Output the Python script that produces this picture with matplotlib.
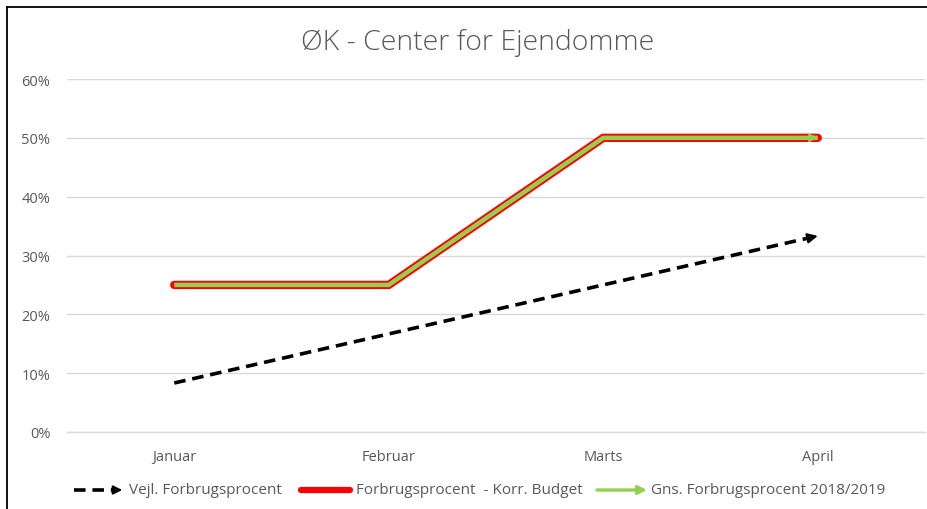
import matplotlib
matplotlib.use("Agg")
import matplotlib.pyplot as plt
from matplotlib.lines import Line2D
from matplotlib.patches import FancyArrowPatch

# ---- data ----
categories = ["Januar", "Februar", "Marts", "April"]
vejl = [8.33, 16.67, 25.0, 33.33]          # Vejl. Forbrugsprocent
korr = [25.0, 25.0, 50.0, 50.0]            # Forbrugsprocent - Korr. Budget
gns = [25.0, 25.0, 50.0, 50.0]             # Gns. Forbrugsprocent 2018/2019
yticks = [0, 10, 20, 30, 40, 50, 60]
ytick_labels = ["0%", "10%", "20%", "30%", "40%", "50%", "60%"]
title = "ØK - Center for Ejendomme"
legend_labels = ["Vejl. Forbrugsprocent", "Forbrugsprocent  - Korr. Budget",
                 "Gns. Forbrugsprocent 2018/2019"]

W, H = 928, 510
TXT = "#595959"
GRID = "#D9D9D9"
RED = "#FF0000"
GREEN = "#92D050"

plt.rcParams['font.family'] = ['Open Sans', 'DejaVu Sans']

fig = plt.figure(figsize=(W / 100, H / 100), dpi=100)
fig.patch.set_facecolor("white")

def fx(px):
    return px / W

def fy(py):
    return 1 - py / H

ax = fig.add_axes([fx(67), fy(433), fx(925) - fx(67), fy(80) - fy(433)])
x = list(range(len(categories)))

DASH = (0, (3.2, 1.9))

# lines
ax.plot(x, korr, color=RED, lw=6.0, solid_capstyle="round", solid_joinstyle="miter", zorder=3)
ax.plot(x, gns, color=GREEN, lw=3.2, solid_capstyle="butt", solid_joinstyle="miter", zorder=4)
ax.plot(x, vejl, color="black", lw=2.6, linestyle=DASH, zorder=5)

def end_arrow(xs, ys, color, ms, lw, z):
    t = 0.04
    x0 = xs[-1] - t * (xs[-1] - xs[-2])
    y0 = ys[-1] - t * (ys[-1] - ys[-2])
    ax.annotate("", xy=(xs[-1], ys[-1]), xytext=(x0, y0),
                arrowprops=dict(arrowstyle="-|>", color=color, lw=lw,
                                mutation_scale=ms, shrinkA=0, shrinkB=0),
                zorder=z)

end_arrow(x, vejl, "black", 15, 1.5, 6)
end_arrow(x, gns, GREEN, 13, 1.0, 6)

ax.set_xlim(-0.5, len(categories) - 0.5)
ax.set_ylim(0, 60)
ax.set_yticks(yticks)
ax.set_yticklabels(ytick_labels)
ax.set_xticks(x)
ax.set_xticklabels(categories)
ax.grid(axis="y", color=GRID, lw=1.0)
ax.set_axisbelow(True)
for s in ["top", "right", "left"]:
    ax.spines[s].set_visible(False)
ax.spines["bottom"].set_color(GRID)
ax.spines["bottom"].set_linewidth(1.0)
ax.tick_params(axis="both", length=0, colors=TXT, labelsize=10.5)
ax.tick_params(axis="y", pad=12)
ax.tick_params(axis="x", pad=12)

fig.text(fx(478), fy(43), title, ha="center", va="center", fontsize=20.5,
         color=TXT, fontweight="light")

# frame (left and top edges visible)
fig.add_artist(Line2D([fx(7), fx(7)], [fy(8), 0], color="black", lw=1.3))
fig.add_artist(Line2D([fx(7), 1], [fy(8), fy(8)], color="black", lw=1.3))

# legend (manual)
ly = fy(491)
LFS = 11
fig.add_artist(Line2D([fx(74), fx(114)], [ly, ly], color="black", lw=2.6, linestyle=DASH))
fig.add_artist(FancyArrowPatch((fx(110), ly), (fx(125), ly), transform=fig.transFigure,
                               arrowstyle="-|>", mutation_scale=13, color="black", lw=1.5))
fig.text(fx(129), ly, legend_labels[0], ha="left", va="center", fontsize=LFS, color=TXT)

fig.add_artist(Line2D([fx(301), fx(350)], [ly, ly], color=RED, lw=4.5,
                      solid_capstyle="round"))
fig.text(fx(356), ly, legend_labels[1], ha="left", va="center", fontsize=LFS, color=TXT)

fig.add_artist(FancyArrowPatch((fx(597), ly), (fx(647), ly), transform=fig.transFigure,
                               arrowstyle="-|>", mutation_scale=12, color=GREEN, lw=2.4,
                               shrinkA=0, shrinkB=0))
fig.text(fx(651), ly, legend_labels[2], ha="left", va="center", fontsize=LFS, color=TXT)

fig.savefig("out.png", dpi=100, facecolor="white")
